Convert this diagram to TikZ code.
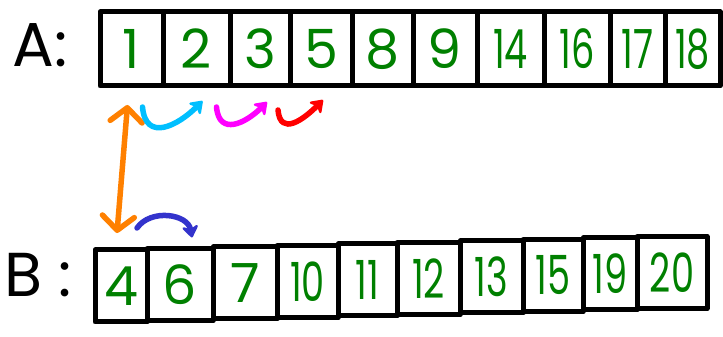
\documentclass[tikz,border=0pt]{standalone}
\usepackage{fontspec}
\setmainfont{Poppins}
\usetikzlibrary{positioning, arrows.meta}

\definecolor{numgreen}{RGB}{0,128,0}
\definecolor{hoporange}{RGB}{255,128,0}
\definecolor{hopcyan}{RGB}{0,191,255}
\definecolor{hopmagenta}{RGB}{255,0,255}
\definecolor{hopred}{RGB}{255,0,0}
\definecolor{hopblue}{RGB}{51,51,204}
\newcommand{\twodig}[1]{\scalebox{0.68}[1]{#1}}

\begin{document}
\begin{tikzpicture}[
    x=1pt, y=1pt,
    cell_box/.style={draw, line width=5pt, line join=round, minimum height=74pt, inner sep=0pt, outer sep=0pt, font=\fontsize{54}{58}\selectfont, text=numgreen},
    row_label/.style={font=\fontsize{62}{66}\selectfont},
    hop_path/.style={line width=5.5pt, line cap=round, looseness=1.5, -{Stealth[round, length=14pt, width=20pt]}},
    both_path/.style={line width=5.5pt, line cap=round, {Straight Barb[round, length=14pt, width=32pt]}-{Straight Barb[round, length=14pt, width=32pt]}}
  ]
    \useasboundingbox (0,0) rectangle (723,337);

    % array A
    \node[row_label] (LA) at (40,292) {A:};
    \node[cell_box, minimum width=63pt] (a1) at (131.5,288) {1};
    \node[cell_box, minimum width=67pt, right=0pt of a1] (a2) {2};
    \node[cell_box, minimum width=60pt, right=0pt of a2] (a3) {3};
    \node[cell_box, minimum width=62pt, right=0pt of a3] (a4) {5};
    \node[cell_box, minimum width=61pt, right=0pt of a4] (a5) {8};
    \node[cell_box, minimum width=64pt, right=0pt of a5] (a6) {9};
    \node[cell_box, minimum width=67pt, right=0pt of a6] (a7) {\twodig{14}};
    \node[cell_box, minimum width=66pt, right=0pt of a7] (a8) {\twodig{16}};
    \node[cell_box, minimum width=55pt, right=0pt of a8] (a9) {\twodig{17}};
    \node[cell_box, minimum width=55pt, right=0pt of a9] (a10) {\twodig{18}};

    % array B
    \node[row_label] (LB) at (38,62) {B :};
    \node[cell_box, minimum height=72pt, minimum width=52pt] (b1) at (121,51) {4};
    \node[cell_box, minimum height=72pt, minimum width=66pt, right=0pt of b1, yshift=1.5pt] (b2) {6};
    \node[cell_box, minimum height=72pt, minimum width=64pt, right=0pt of b2, yshift=1.5pt] (b3) {7};
    \node[cell_box, minimum height=72pt, minimum width=61pt, right=0pt of b3, yshift=1.5pt] (b4) {\twodig{10}};
    \node[cell_box, minimum height=72pt, minimum width=59pt, right=0pt of b4, yshift=1.5pt] (b5) {\twodig{11}};
    \node[cell_box, minimum height=72pt, minimum width=63pt, right=0pt of b5, yshift=1.5pt] (b6) {\twodig{12}};
    \node[cell_box, minimum height=72pt, minimum width=63pt, right=0pt of b6, yshift=1.5pt] (b7) {\twodig{13}};
    \node[cell_box, minimum height=72pt, minimum width=60pt, right=0pt of b7, yshift=1.5pt] (b8) {\twodig{15}};
    \node[cell_box, minimum height=72pt, minimum width=54pt, right=0pt of b8, yshift=1.5pt] (b9) {\twodig{19}};
    \node[cell_box, minimum height=72pt, minimum width=70pt, right=0pt of b9, yshift=1.5pt] (b10) {\twodig{20}};

    % hops
    \draw[both_path, hoporange] ([xshift=-4pt, yshift=-19pt]a1.south) -- ([xshift=-4pt, yshift=17pt]b1.north);
    \draw[hop_path, hopcyan] ([xshift=11pt, yshift=-21pt]a1.south) to[out=-85, in=-135] ([xshift=6pt, yshift=-15pt]a2.south);
    \draw[hop_path, hopmagenta] ([xshift=20pt, yshift=-21pt]a2.south) to[out=-85, in=-135] ([xshift=7pt, yshift=-16pt]a3.south);
    \draw[hop_path, hopred] ([xshift=18pt, yshift=-24pt]a3.south) to[out=-85, in=-135] ([xshift=2pt, yshift=-14pt]a4.south);
    \draw[hop_path, hopblue, looseness=1.1] ([xshift=16pt, yshift=22pt]b1.north) to[out=55, in=100] ([xshift=12pt, yshift=11pt]b2.north);
  \end{tikzpicture}
\end{document}
